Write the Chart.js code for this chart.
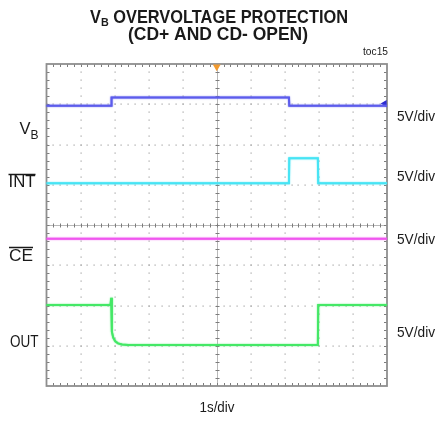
<!DOCTYPE html>
<html><head><meta charset="utf-8">
<script src="https://cdn.jsdelivr.net/npm/chart.js@4.4.1/dist/chart.umd.min.js"></script>
<style>html,body{margin:0;padding:0;background:#fff}#wrap{width:440px;height:421px;position:relative}</style>
</head><body><div id="wrap"><canvas id="c" width="440" height="421"></canvas></div>
<script>
// ---- data (all in screen divisions: x 0..10 @ 1s/div, y 0..8 @ 5V/div) ----
const xDivs = 10;
const yDivs = 8;
const vbTime   = [0, 1.90, 1.91, 7.12, 7.13, 10];
const vbLevel  = [6.96, 6.96, 7.17, 7.17, 6.96, 6.96];
const intTime  = [0, 7.12, 7.13, 7.97, 7.98, 10];
const intLevel = [5.04, 5.04, 5.66, 5.66, 5.04, 5.04];
const ceTime   = [0, 10];
const ceLevel  = [3.66, 3.66];
const outTime  = [0, 1.88, 1.90, 1.92, 1.96, 2.02, 2.10, 2.22, 2.40, 7.97, 7.98, 10];
const outLevel = [2.01, 2.01, 2.19, 1.35, 1.20, 1.11, 1.06, 1.03, 1.02, 1.02, 2.01, 2.01];
const triggerMarker = [{x: 5, y: 7.93}];
const ch1Marker = [{x: 9.93, y: 7.02}];
const channelNames = ['VB', 'INT', 'CE', 'OUT'];
const scaleLabels = ['5V/div', '5V/div', '5V/div', '5V/div'];
const timeLabel = '1s/div';
const titleLine1 = ['V', 'B', ' OVERVOLTAGE PROTECTION'];
const titleLine2 = '(CD+ AND CD- OPEN)';
const figId = 'toc15';

const pts = (t, v) => t.map((x, i) => ({x, y: v[i]}));
const FAM = "'Liberation Sans', Arial, sans-serif";

function fitText(ctx, text, x, y, font, align, target) {
  ctx.font = font;
  const w = ctx.measureText(text).width;
  const s = target ? target / w : 1;
  ctx.save();
  ctx.textBaseline = 'middle';
  ctx.textAlign = 'left';
  let left = x;
  if (align === 'center') left = x - w * s / 2;
  else if (align === 'right') left = x - w * s;
  ctx.translate(left, y);
  ctx.scale(s, 1);
  ctx.fillText(text, 0, 0);
  ctx.restore();
  return {left, width: w * s};
}

const gridPlugin = {
  id: 'scopeGrid',
  beforeDatasetsDraw(chart) {
    const {ctx, chartArea: a, scales: {x, y}} = chart;
    ctx.save();
    ctx.fillStyle = '#a4a4a4';
    for (let i = 1; i < xDivs; i++) {
      if (i === xDivs / 2) continue;
      const px = Math.round(x.getPixelForValue(i)) - 0.5;
      for (let j = 0; j <= yDivs * 5; j++) {
        const py = Math.round(y.getPixelForValue(j / 5)) - 0.5;
        ctx.fillRect(px, py, 1.2, 1.2);
      }
    }
    for (let j = 1; j < yDivs; j++) {
      if (j === yDivs / 2) continue;
      const py = Math.round(y.getPixelForValue(j)) - 0.5;
      for (let i = 0; i <= xDivs * 5; i++) {
        const px = Math.round(x.getPixelForValue(i / 5)) - 0.5;
        ctx.fillRect(px, py, 1.2, 1.2);
      }
    }
    // center cross
    const cx = Math.round(x.getPixelForValue(xDivs / 2)) + 0.5;
    const cy = Math.round(y.getPixelForValue(yDivs / 2)) + 0.5;
    ctx.strokeStyle = '#b8b8b8';
    ctx.lineWidth = 1;
    ctx.beginPath();
    ctx.moveTo(a.left, cy); ctx.lineTo(a.right, cy);
    ctx.moveTo(cx, a.top); ctx.lineTo(cx, a.bottom);
    ctx.stroke();
    ctx.strokeStyle = '#7c7c7c';
    ctx.beginPath();
    for (let i = 1; i < xDivs * 5; i++) {
      const px = Math.round(x.getPixelForValue(i / 5)) + 0.5;
      ctx.moveTo(px, cy - 2); ctx.lineTo(px, cy + 2);
      ctx.moveTo(px, a.top); ctx.lineTo(px, a.top + 3);
      ctx.moveTo(px, a.bottom); ctx.lineTo(px, a.bottom - 3);
    }
    for (let j = 1; j < yDivs * 5; j++) {
      const py = Math.round(y.getPixelForValue(j / 5)) + 0.5;
      ctx.moveTo(cx - 2, py); ctx.lineTo(cx + 2, py);
      ctx.moveTo(a.left, py); ctx.lineTo(a.left + 3, py);
      ctx.moveTo(a.right, py); ctx.lineTo(a.right - 3, py);
    }
    ctx.stroke();
    // border
    ctx.strokeStyle = '#8e8e8e';
    ctx.lineWidth = 1.8;
    ctx.strokeRect(a.left, a.top, a.right - a.left, a.bottom - a.top);
    ctx.restore();
  },
  beforeDatasetDraw(chart, args) {
    const ctx = chart.ctx;
    ctx.save();
    const ds = chart.data.datasets[args.index];
    if (ds.showLine !== false) {
      ctx.shadowColor = ds.borderColor;
      ctx.shadowBlur = 1.5;
    }
  },
  afterDatasetDraw(chart) {
    chart.ctx.restore();
  },
  afterDraw(chart) {
    const ctx = chart.ctx;
    ctx.save();
    ctx.fillStyle = '#1a1a1a';
    // title line 1 with subscript
    const big = 'bold 17.5px ' + FAM, small = 'bold 11.5px ' + FAM;
    ctx.font = big; const w1 = ctx.measureText(titleLine1[0]).width;
    ctx.font = small; const w2 = ctx.measureText(titleLine1[1]).width;
    ctx.font = big; const w3 = ctx.measureText(titleLine1[2]).width;
    const tot = w1 + w2 + w3, target = 258, s = target / tot;
    ctx.save();
    ctx.translate(219 - target / 2, 18);
    ctx.scale(s, 1);
    ctx.textBaseline = 'middle';
    ctx.font = big; ctx.fillText(titleLine1[0], 0, 0);
    ctx.font = small; ctx.fillText(titleLine1[1], w1, 5);
    ctx.font = big; ctx.fillText(titleLine1[2], w1 + w2, 0);
    ctx.restore();
    fitText(ctx, titleLine2, 218, 35, big, 'center', 180);
    fitText(ctx, figId, 388, 52, '10px ' + FAM, 'right', 25);
    // left channel labels
    const lf = '16.5px ' + FAM;
    ctx.font = lf; const vw = ctx.measureText('V').width;
    ctx.font = '12px ' + FAM; const bw = ctx.measureText('B').width;
    ctx.save();
    ctx.textBaseline = 'middle';
    ctx.font = lf; ctx.fillText(channelNames[0][0], 38.5 - vw - bw, 129.5);
    ctx.font = '12px ' + FAM; ctx.fillText(channelNames[0].slice(1), 38.5 - bw, 135.5);
    ctx.restore();
    const r1 = fitText(ctx, channelNames[1], 35.5, 182.5, lf, 'right', 27);
    const r2 = fitText(ctx, channelNames[2], 33, 256, lf, 'right', 24);
    fitText(ctx, channelNames[3], 38.5, 342, lf, 'right', 28.5);
    ctx.strokeStyle = '#1a1a1a'; ctx.lineWidth = 1.3;
    ctx.beginPath();
    ctx.moveTo(r1.left, 174.5); ctx.lineTo(r1.left + r1.width, 174.5);
    ctx.moveTo(r2.left, 247.5); ctx.lineTo(r2.left + r2.width, 247.5);
    ctx.stroke();
    // right scale labels
    const ry = [117, 177, 240, 333];
    scaleLabels.forEach((t, i) => fitText(ctx, t, 397, ry[i], '14.5px ' + FAM, 'left', 38));
    fitText(ctx, timeLabel, 217, 408, '14.5px ' + FAM, 'center', 35);
    ctx.restore();
  }
};

const line = (data, color) => ({
  data, borderColor: color, backgroundColor: color, borderWidth: 2,
  pointRadius: 0, tension: 0, fill: false
});

new Chart(document.getElementById('c'), {
  type: 'line',
  data: {
    datasets: [
      line(pts(vbTime, vbLevel), '#5c5cec'),
      line(pts(intTime, intLevel), '#46e4f4'),
      line(pts(ceTime, ceLevel), '#f056ef'),
      line(pts(outTime, outLevel), '#44e866'),
      {data: triggerMarker, showLine: false, pointStyle: 'triangle', rotation: 180,
       pointRadius: 4.5, backgroundColor: '#f29a2e', borderColor: '#f29a2e', borderWidth: 0},
      {data: ch1Marker, showLine: false, pointStyle: 'triangle', rotation: 270,
       pointRadius: 4, backgroundColor: '#2a2ad0', borderColor: '#2a2ad0', borderWidth: 0}
    ]
  },
  options: {
    responsive: false,
    animation: false,
    devicePixelRatio: 1,
    clip: false,
    layout: {padding: {left: 46.5, right: 53, top: 64, bottom: 35}},
    plugins: {legend: {display: false}, tooltip: {enabled: false}, title: {display: false}},
    scales: {
      x: {type: 'linear', min: 0, max: xDivs, display: false},
      y: {type: 'linear', min: 0, max: yDivs, display: false}
    }
  },
  plugins: [gridPlugin]
});
</script>
</body></html>
